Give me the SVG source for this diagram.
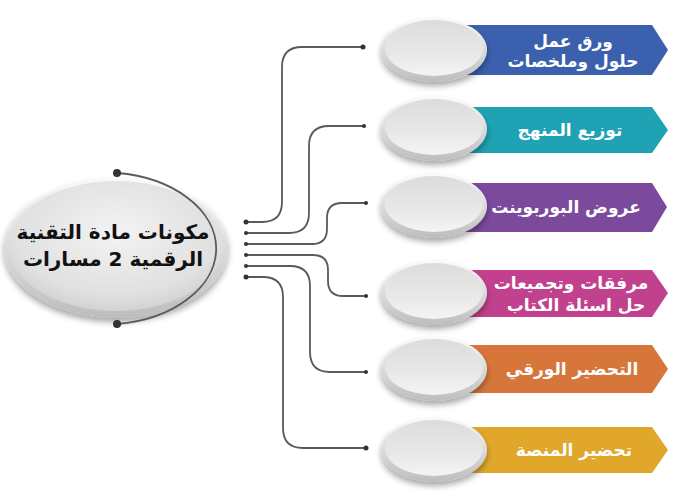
<svg xmlns="http://www.w3.org/2000/svg" width="700" height="500" viewBox="0 0 700 500">
<defs>
<radialGradient id="gBig" cx="0.5" cy="0.4" r="0.6">
<stop offset="0" stop-color="#f3f3f3"/>
<stop offset="0.8" stop-color="#e0e0e0"/>
<stop offset="1" stop-color="#d2d2d2"/>
</radialGradient>
<linearGradient id="gSmall" x1="0" y1="0" x2="0" y2="1">
<stop offset="0" stop-color="#dcdcdc"/>
<stop offset="0.6" stop-color="#e8e8e8"/>
<stop offset="1" stop-color="#f4f4f4"/>
</linearGradient>
<linearGradient id="gRim" x1="0" y1="0" x2="0" y2="1">
<stop offset="0" stop-color="#fafafa"/>
<stop offset="1" stop-color="#bdbdbd"/>
</linearGradient>
<filter id="sh" x="-20%" y="-20%" width="140%" height="160%">
<feGaussianBlur in="SourceAlpha" stdDeviation="3"/>
<feOffset dy="4"/>
<feComponentTransfer><feFuncA type="linear" slope="0.35"/></feComponentTransfer>
<feMerge><feMergeNode/><feMergeNode in="SourceGraphic"/></feMerge>
</filter>
</defs>
<style>
.conn{fill:none;stroke:#5a5a5a;stroke-width:1.8}
.dot{fill:#333}
.lbl{font-family:"DejaVu Sans",sans-serif;font-weight:bold;font-size:17px;fill:#ffffff;text-anchor:middle}
.ctr{font-family:"DejaVu Sans",sans-serif;font-weight:bold;font-size:20px;fill:#111;text-anchor:middle}
</style>
<rect width="700" height="500" fill="#ffffff"/>
<g id="center">
<ellipse cx="116" cy="248" rx="112" ry="70" fill="url(#gRim)" filter="url(#sh)"/>
<ellipse cx="116" cy="246" rx="107" ry="65" fill="url(#gBig)"/>
<path class="conn" d="M117,173 A112,76 0 0 1 117,324" stroke="#333" stroke-width="1.5"/>
<circle class="dot" cx="117" cy="173" r="4"/>
<circle class="dot" cx="117" cy="324" r="4"/>
<text class="ctr" x="113" y="239">مكونات مادة التقنية</text>
<text class="ctr" x="113" y="266">الرقمية 2 مسارات</text>
</g>
<g id="connectors">
<path class="conn" d="M246,222 L262,222 Q282,222 282,202 L282,67 Q282,47 302,47 L363,47"/>
<path class="conn" d="M246,233 L289,233 Q309,233 309,213 L309,146 Q309,126 329,126 L364,126"/>
<path class="conn" d="M246,244 L312,244 Q327,244 327,229 L327,218 Q327,203 342,203 L366,203"/>
<path class="conn" d="M246,255 L313,255 Q328,255 328,270 L328,281 Q328,296 343,296 L366,296"/>
<path class="conn" d="M246,266 L290,266 Q310,266 310,286 L310,352 Q310,372 330,372 L366,372"/>
<path class="conn" d="M246,277 L263,277 Q283,277 283,297 L283,428 Q283,448 303,448 L366,448"/>
<g class="dot">
<circle cx="246" cy="222" r="2.5"/><circle cx="246" cy="233" r="2"/><circle cx="246" cy="244" r="2"/>
<circle cx="246" cy="255" r="2"/><circle cx="246" cy="266" r="2"/><circle cx="246" cy="277" r="2.5"/>
<circle cx="363" cy="47" r="2.5"/><circle cx="364" cy="126" r="2"/><circle cx="366" cy="203" r="2"/>
<circle cx="366" cy="296" r="2"/><circle cx="366" cy="372" r="2"/><circle cx="366" cy="448" r="2.5"/>
</g>
</g>
<g id="n1">
<path d="M455,25 L652,25 L668,50 L652,75 L455,75 Z" fill="#3b60ae"/>
<text class="lbl" x="573" y="47">ورق عمل</text>
<text class="lbl" x="573" y="67">حلول وملخصات</text>
<ellipse cx="434" cy="50" rx="53" ry="32" fill="url(#gRim)" filter="url(#sh)"/>
<ellipse cx="434" cy="48" rx="49" ry="28" fill="url(#gSmall)"/>
</g>
<g id="n2">
<path d="M455,107 L652,107 L668,130 L652,153 L455,153 Z" fill="#1fa2b4"/>
<text class="lbl" x="570" y="136">توزيع المنهج</text>
<ellipse cx="434" cy="129" rx="53" ry="32" fill="url(#gRim)" filter="url(#sh)"/>
<ellipse cx="434" cy="127" rx="49" ry="28" fill="url(#gSmall)"/>
</g>
<g id="n3">
<path d="M455,183 L652,183 L667,207 L652,232 L455,232 Z" fill="#7b4a9c"/>
<text class="lbl" x="566" y="213">عروض البوربوينت</text>
<ellipse cx="434" cy="206" rx="53" ry="32" fill="url(#gRim)" filter="url(#sh)"/>
<ellipse cx="434" cy="204" rx="49" ry="28" fill="url(#gSmall)"/>
</g>
<g id="n4">
<path d="M455,270 L652,270 L668,293 L652,317 L455,317 Z" fill="#c2418e"/>
<text class="lbl" x="571" y="289">مرفقات وتجميعات</text>
<text class="lbl" x="576" y="311">حل اسئلة الكتاب</text>
<ellipse cx="434" cy="293" rx="53" ry="32" fill="url(#gRim)" filter="url(#sh)"/>
<ellipse cx="434" cy="291" rx="49" ry="28" fill="url(#gSmall)"/>
</g>
<g id="n5">
<path d="M455,345 L652,345 L668,369 L652,393 L455,393 Z" fill="#d7763a"/>
<text class="lbl" x="572" y="375">التحضير الورقي</text>
<ellipse cx="434" cy="369" rx="53" ry="32" fill="url(#gRim)" filter="url(#sh)"/>
<ellipse cx="434" cy="367" rx="49" ry="28" fill="url(#gSmall)"/>
</g>
<g id="n6">
<path d="M455,427 L652,427 L668,450 L652,473 L455,473 Z" fill="#e1a72b"/>
<text class="lbl" x="574" y="456">تحضير المنصة</text>
<ellipse cx="434" cy="450" rx="53" ry="32" fill="url(#gRim)" filter="url(#sh)"/>
<ellipse cx="434" cy="448" rx="49" ry="28" fill="url(#gSmall)"/>
</g>
</svg>
